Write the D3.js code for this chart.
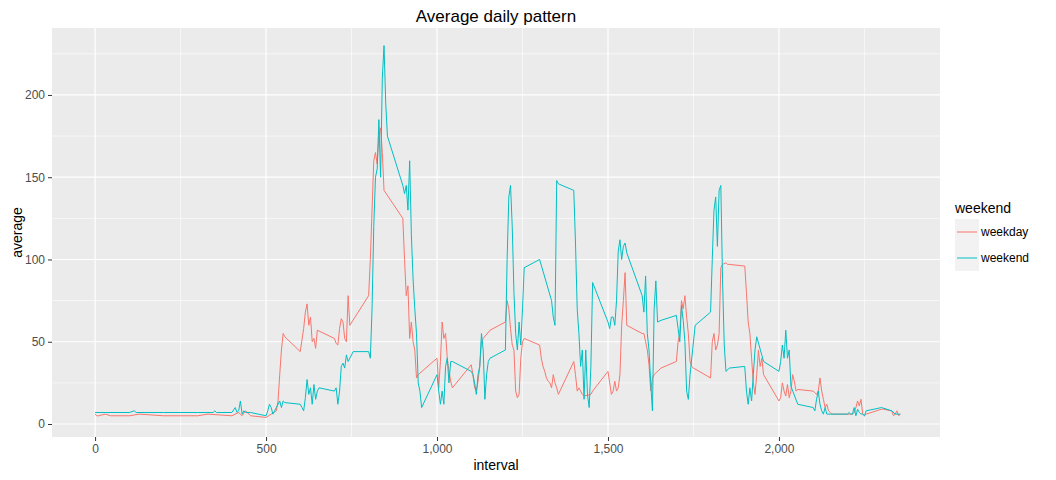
<!DOCTYPE html>
<html><head><meta charset="utf-8">
<script src="https://cdn.jsdelivr.net/npm/d3@7"></script>
<style>body{margin:0;background:#fff;font-family:Arial,"Liberation Sans",sans-serif}</style>
</head><body><svg id="c" width="1056" height="480"></svg>
<script>
// [interval, average] pairs
var weekday = [[0,6],[5,5],[10,5],[30,6],[45,5],[100,5],[130,6],[200,5],[300,5],[330,6],[400,5],[420,7],[430,5],[440,8],[450,6],[455,5],[500,4],[515,6],[530,8],[535,14],[540,30],[545,45],[550,55],[555,53],[600,44],[610,58],[615,68],[620,73],[625,60],[630,65],[635,50],[640,52],[645,46],[650,57],[700,52],[705,49],[710,48],[715,58],[720,64],[725,62],[730,52],[735,50],[740,78],[745,60],[800,78],[805,100],[810,130],[815,160],[820,165],[825,158],[830,175],[835,180],[840,165],[845,142],[900,125],[905,100],[910,78],[915,84],[920,52],[925,62],[930,50],[935,45],[940,28],[945,30],[1000,40],[1005,22],[1010,38],[1015,62],[1020,52],[1025,55],[1030,40],[1035,32],[1040,26],[1045,22],[1100,36],[1105,30],[1110,22],[1115,20],[1120,26],[1125,35],[1130,50],[1135,52],[1155,57],[1200,62],[1205,75],[1210,70],[1215,58],[1220,48],[1225,45],[1230,20],[1235,16],[1240,18],[1245,40],[1250,50],[1255,52],[1300,48],[1305,40],[1310,35],[1315,32],[1320,28],[1325,26],[1330,25],[1335,22],[1340,30],[1345,25],[1350,22],[1355,18],[1400,38],[1405,30],[1410,20],[1415,22],[1420,20],[1425,18],[1430,17],[1450,18],[1455,20],[1500,32],[1505,25],[1510,18],[1515,20],[1520,26],[1525,20],[1530,22],[1535,30],[1540,60],[1545,75],[1550,92],[1555,60],[1600,55],[1605,55],[1610,50],[1615,45],[1620,36],[1625,20],[1630,28],[1635,30],[1655,34],[1700,38],[1705,50],[1710,55],[1715,75],[1720,70],[1725,78],[1730,65],[1735,55],[1740,38],[1745,35],[1750,34],[1800,28],[1805,50],[1810,55],[1815,45],[1820,48],[1825,55],[1830,95],[1835,97],[1845,98],[1850,97],[1855,97],[1900,96],[1905,80],[1910,62],[1915,55],[1920,40],[1925,25],[1930,18],[1935,30],[1940,45],[1945,35],[1950,40],[1955,30],[2000,14],[2005,16],[2010,25],[2015,20],[2020,17],[2025,24],[2030,16],[2035,20],[2040,30],[2045,26],[2050,20],[2055,21],[2100,20],[2105,19],[2110,18],[2115,20],[2120,28],[2125,20],[2130,15],[2135,10],[2140,12],[2145,8],[2150,7],[2155,6],[2200,6],[2215,6],[2220,7],[2225,10],[2230,14],[2235,11],[2240,15],[2245,6],[2250,5],[2255,6],[2300,9],[2305,9],[2330,8],[2335,5],[2340,6],[2345,8],[2350,5],[2355,6]];
var weekend = [[0,7],[30,7],[100,7],[115,8],[120,7],[200,7],[300,7],[345,7],[350,8],[355,7],[400,7],[410,10],[415,7],[420,8],[425,14],[430,6],[435,8],[440,7],[455,7],[500,5],[505,8],[510,12],[515,10],[520,6],[525,8],[530,10],[540,14],[545,10],[550,14],[555,13],[600,12],[605,10],[610,8],[615,16],[620,27],[625,18],[630,22],[635,12],[640,24],[645,15],[650,20],[655,22],[700,20],[705,22],[710,12],[715,20],[720,35],[725,37],[730,34],[735,42],[740,38],[755,44],[800,44],[805,40],[810,70],[815,120],[820,150],[825,155],[830,185],[835,150],[840,210],[845,230],[850,195],[855,175],[900,145],[905,140],[910,145],[915,130],[920,160],[925,115],[930,88],[935,70],[940,55],[945,25],[950,20],[955,10],[1000,30],[1005,20],[1010,12],[1015,20],[1020,12],[1025,35],[1030,40],[1035,25],[1040,38],[1045,38],[1100,32],[1105,30],[1110,25],[1115,18],[1120,30],[1125,35],[1130,55],[1135,45],[1140,15],[1145,30],[1150,38],[1155,40],[1200,45],[1205,100],[1210,138],[1215,145],[1220,120],[1225,80],[1230,55],[1235,45],[1240,62],[1245,48],[1250,70],[1255,95],[1300,100],[1335,75],[1340,65],[1345,60],[1350,148],[1355,146],[1400,142],[1405,110],[1410,70],[1415,55],[1420,35],[1425,45],[1430,15],[1435,45],[1440,18],[1445,10],[1450,35],[1455,86],[1500,62],[1505,58],[1510,65],[1515,65],[1520,60],[1525,75],[1530,105],[1535,112],[1540,100],[1545,108],[1550,110],[1555,104],[1600,78],[1605,68],[1610,90],[1615,55],[1620,45],[1625,25],[1630,8],[1635,70],[1640,87],[1645,62],[1655,63],[1700,66],[1705,58],[1710,50],[1715,72],[1720,63],[1725,50],[1730,20],[1735,15],[1740,30],[1755,60],[1800,68],[1805,100],[1810,130],[1815,138],[1820,108],[1825,142],[1830,145],[1835,88],[1840,48],[1845,32],[1855,34],[1900,35],[1905,20],[1910,12],[1915,22],[1920,14],[1925,30],[1930,45],[1935,53],[1955,38],[2000,32],[2005,38],[2010,48],[2015,40],[2020,57],[2025,40],[2030,45],[2035,23],[2055,12],[2100,10],[2105,8],[2110,15],[2115,20],[2120,12],[2125,8],[2130,6],[2135,10],[2140,6],[2200,6],[2205,7],[2210,6],[2215,6],[2220,10],[2225,5],[2230,9],[2235,7],[2240,6],[2245,6],[2250,5],[2255,8],[2300,10],[2330,8],[2340,6],[2355,6]];
var seriesNames = ["weekday", "weekend"];
var seriesColors = ["#F8766D", "#00BFC4"];
var xTicks = [0, 500, 1000, 1500, 2000];
var yTicks = [0, 50, 100, 150, 200];

var svg = d3.select("#c");
var L = 52, R = 940, T = 28, B = 437;
var x = d3.scaleLinear().domain([-126, 2471]).range([L, R]);
var y = d3.scaleLinear().domain([-7.9, 240.7]).range([B, T]);

svg.append("rect").attr("x", L).attr("y", T).attr("width", R - L).attr("height", B - T).attr("fill", "#EBEBEB");
var g = svg.append("g");
// minor grid
[250, 750, 1250, 1750, 2250].forEach(function(v) {
  g.append("line").attr("x1", x(v)).attr("x2", x(v)).attr("y1", T).attr("y2", B).attr("stroke", "#fff").attr("stroke-width", 0.6);
});
[25, 75, 125, 175, 225].forEach(function(v) {
  g.append("line").attr("y1", y(v)).attr("y2", y(v)).attr("x1", L).attr("x2", R).attr("stroke", "#fff").attr("stroke-width", 0.6);
});
xTicks.forEach(function(v) {
  g.append("line").attr("x1", x(v)).attr("x2", x(v)).attr("y1", T).attr("y2", B).attr("stroke", "#fff").attr("stroke-width", 1.2);
});
yTicks.forEach(function(v) {
  g.append("line").attr("y1", y(v)).attr("y2", y(v)).attr("x1", L).attr("x2", R).attr("stroke", "#fff").attr("stroke-width", 1.2);
});

var line = d3.line().x(function(d) { return x(d[0]); }).y(function(d) { return y(d[1]); });
[weekday, weekend].forEach(function(s, i) {
  svg.append("path").datum(s).attr("d", line).attr("fill", "none").attr("stroke", seriesColors[i]).attr("stroke-width", 1);
});

var xa = svg.append("g").attr("transform", "translate(0," + B + ")").call(d3.axisBottom(x).tickValues(xTicks).tickSize(4).tickPadding(3));
var ya = svg.append("g").attr("transform", "translate(" + L + ",0)").call(d3.axisLeft(y).tickValues(yTicks).tickSize(4).tickPadding(3));
[xa, ya].forEach(function(a) {
  a.select(".domain").remove();
  a.selectAll("line").attr("stroke", "#333");
  a.selectAll("text").attr("fill", "#4D4D4D").style("font-size", "12px").style("font-family", "Arial,'Liberation Sans',sans-serif");
});

svg.append("text").attr("x", (L + R) / 2).attr("y", 22).attr("text-anchor", "middle").style("font-size", "17px").text("Average daily pattern");
svg.append("text").attr("x", (L + R) / 2).attr("y", 470).attr("text-anchor", "middle").style("font-size", "14px").text("interval");
svg.append("text").attr("transform", "translate(22," + (T + B) / 2 + ") rotate(-90)").attr("text-anchor", "middle").style("font-size", "14px").text("average");

var lg = svg.append("g").attr("transform", "translate(955,0)");
lg.append("text").attr("x", 0).attr("y", 213).style("font-size", "14px").text("weekend");
seriesNames.forEach(function(n, i) {
  var yy = 219 + i * 26;
  lg.append("rect").attr("x", 0).attr("y", yy).attr("width", 24).attr("height", 26).attr("fill", "#F2F2F2");
  lg.append("line").attr("x1", 2).attr("x2", 22).attr("y1", yy + 13).attr("y2", yy + 13).attr("stroke", seriesColors[i]);
  lg.append("text").attr("x", 26).attr("y", yy + 17).style("font-size", "12px").text(n);
});
</script></body></html>
